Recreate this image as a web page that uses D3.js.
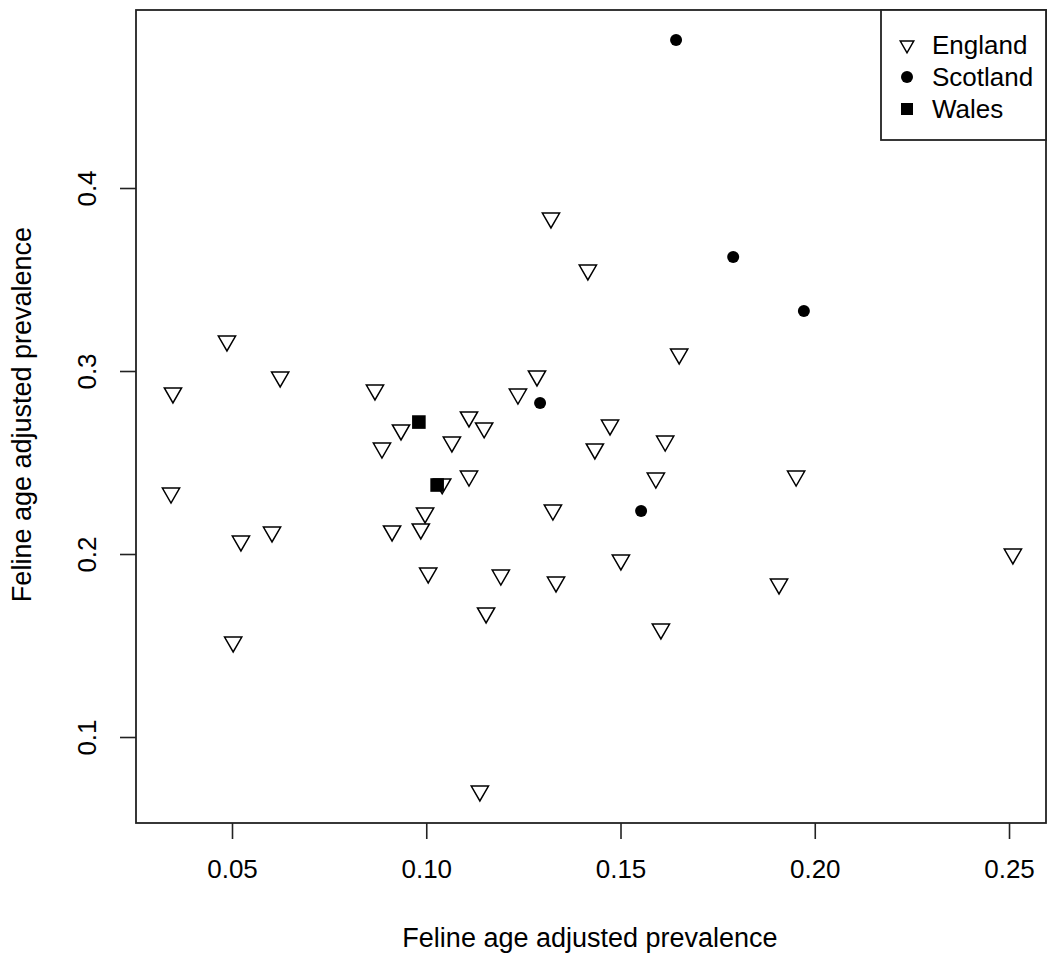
<!DOCTYPE html>
<html>
<head>
<meta charset="utf-8">
<script src="https://cdn.jsdelivr.net/npm/d3@7"></script>
<style>
  body { margin: 0; background: #fff; }
  text { font-family: "Liberation Sans", Arial, sans-serif; fill: #000; }
</style>
</head>
<body>
<div id="chart"></div>
<script>
// values
const englandX = [0.0348, 0.0343, 0.0487, 0.0523, 0.0503, 0.0603, 0.0624, 0.0868, 0.0886, 0.0935,
  0.0912, 0.0986, 0.0997, 0.1005, 0.1041, 0.1066, 0.1110, 0.1149, 0.1110, 0.1154,
  0.1138, 0.1192, 0.1236, 0.1285, 0.1321, 0.1326, 0.1334, 0.1416, 0.1434, 0.1473,
  0.1501, 0.1591, 0.1615, 0.1604, 0.1651, 0.1908, 0.1952, 0.2510]
const englandY = [0.2880, 0.2333, 0.3164, 0.2071, 0.1519, 0.2120, 0.2967, 0.2896, 0.2579, 0.2678,
  0.2126, 0.2137, 0.2224, 0.1896, 0.2383, 0.2612, 0.2749, 0.2689, 0.2426, 0.1678,
  0.0705, 0.1885, 0.2874, 0.2973, 0.3836, 0.2240, 0.1847, 0.3552, 0.2574, 0.2705,
  0.1967, 0.2415, 0.2617, 0.1590, 0.3093, 0.1836, 0.2426, 0.2000]
const scotlandX = [0.1643, 0.1790, 0.1972, 0.1293, 0.1553]
const scotlandY = [0.4809, 0.3623, 0.3328, 0.2825, 0.2235]
const walesX = [0.0981, 0.1028]
const walesY = [0.2721, 0.2377]

const xTicks = [0.05, 0.10, 0.15, 0.20, 0.25]
const yTicks = [0.1, 0.2, 0.3, 0.4]
const countries = ['England', 'Scotland', 'Wales']
const axisTitle = 'Feline age adjusted prevalence'

const width = 1048
const height = 961
const box = { left: 136, right: 1046, top: 10, bottom: 823 }

// R pads the data range by 4% on each side
const x = d3.scaleLinear()
  .domain([0.02529, 0.25952])
  .range([box.left, box.right])

const y = d3.scaleLinear()
  .domain([0.05301, 0.49727])
  .range([box.bottom, box.top])

const svg = d3.select('#chart').append('svg')
  .attr('width', width)
  .attr('height', height)

// R style pch 6 (down triangle), centred on its centroid
const triangle = r => {
  const top = 0.7776 * r, apex = 1.5551 * r, half = 1.3468 * r
  return `M${-half},${-top}L${half},${-top}L0,${apex}Z`
}

const pts = (xs, ys) => xs.map((v, i) => ({ x: v, y: ys[i] }))

// axes
const xAxis = svg.append('g')
  .attr('transform', `translate(0,${box.bottom})`)
  .call(d3.axisBottom(x).tickValues(xTicks).tickFormat(d3.format('.2f'))
    .tickSize(16).tickPadding(21).tickSizeOuter(0))
xAxis.select('.domain').remove()
xAxis.selectAll('line').attr('stroke', '#222').attr('stroke-width', 1.6)
xAxis.selectAll('text').attr('font-size', 26).attr('font-family', null)

const yAxis = svg.append('g')
  .attr('transform', `translate(${box.left},0)`)
  .call(d3.axisLeft(y).tickValues(yTicks).tickFormat(d3.format('.1f'))
    .tickSize(16).tickSizeOuter(0))
yAxis.select('.domain').remove()
yAxis.selectAll('line').attr('stroke', '#222').attr('stroke-width', 1.6)
yAxis.selectAll('text')
  .attr('font-size', 26)
  .attr('font-family', null)
  .attr('text-anchor', 'middle')
  .attr('transform', 'rotate(-90)')
  .attr('x', 0)
  .attr('y', -49)
  .attr('dy', '0.35em')

// plot frame
svg.append('rect')
  .attr('x', box.left)
  .attr('y', box.top)
  .attr('width', box.right - box.left)
  .attr('height', box.bottom - box.top)
  .attr('fill', 'none')
  .attr('stroke', '#222')
  .attr('stroke-width', 1.8)

// axis titles
svg.append('text')
  .attr('x', (box.left + box.right) / 2 - 1)
  .attr('y', 938)
  .attr('dy', '0.35em')
  .attr('text-anchor', 'middle')
  .attr('font-size', 27)
  .text(axisTitle)

svg.append('text')
  .attr('transform', `translate(22,${(box.top + box.bottom) / 2 - 2}) rotate(-90)`)
  .attr('dy', '0.35em')
  .attr('text-anchor', 'middle')
  .attr('font-size', 27)
  .text(axisTitle)

// points
svg.append('g').selectAll('path')
  .data(pts(englandX, englandY))
  .enter().append('path')
  .attr('d', triangle(6.4))
  .attr('transform', d => `translate(${x(d.x)},${y(d.y)})`)
  .attr('fill', '#fff')
  .attr('stroke', '#000')
  .attr('stroke-width', 1.5)

svg.append('g').selectAll('circle')
  .data(pts(scotlandX, scotlandY))
  .enter().append('circle')
  .attr('cx', d => x(d.x))
  .attr('cy', d => y(d.y))
  .attr('r', 6)
  .attr('fill', '#000')

svg.append('g').selectAll('rect')
  .data(pts(walesX, walesY))
  .enter().append('rect')
  .attr('x', d => x(d.x) - 6.8)
  .attr('y', d => y(d.y) - 6.8)
  .attr('width', 13.6)
  .attr('height', 13.6)
  .attr('fill', '#000')

// legend
const legend = svg.append('g')
legend.append('rect')
  .attr('x', 881)
  .attr('y', box.top)
  .attr('width', box.right - 881)
  .attr('height', 130)
  .attr('fill', '#fff')
  .attr('stroke', '#222')
  .attr('stroke-width', 1.8)

const ly = d3.scalePoint().domain(countries).range([45, 109])

legend.append('path')
  .attr('d', triangle(5))
  .attr('transform', `translate(907,${ly('England')})`)
  .attr('fill', '#fff')
  .attr('stroke', '#000')
  .attr('stroke-width', 1.5)
legend.append('circle')
  .attr('cx', 907)
  .attr('cy', ly('Scotland'))
  .attr('r', 6)
  .attr('fill', '#000')
legend.append('rect')
  .attr('x', 907 - 6)
  .attr('y', ly('Wales') - 6)
  .attr('width', 12)
  .attr('height', 12)
  .attr('fill', '#000')

legend.selectAll('text.lab')
  .data(countries)
  .enter().append('text')
  .attr('class', 'lab')
  .attr('x', 932)
  .attr('y', d => ly(d))
  .attr('dy', '0.35em')
  .attr('font-size', 26)
  .text(d => d)
</script>
</body>
</html>
